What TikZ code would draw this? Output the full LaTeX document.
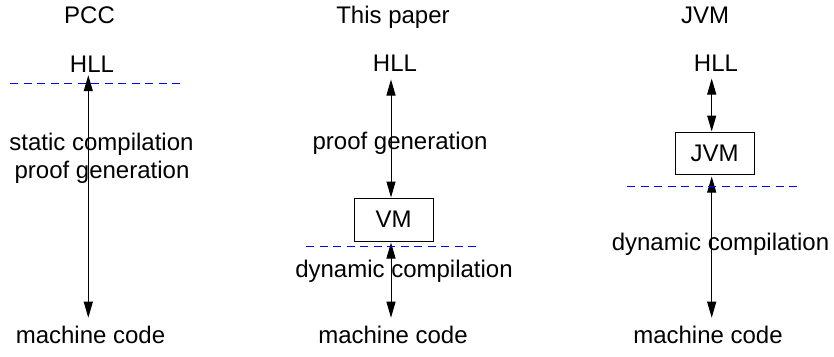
\documentclass[tikz,border=0pt]{standalone}
\usepackage{fontspec}
\setmainfont{Liberation Sans}
\usetikzlibrary{arrows.meta}

\begin{document}
\begin{tikzpicture}[x=1pt,y=-1pt,
  lbl/.style={inner sep=0pt, anchor=base, font=\fontsize{24}{28.8}\selectfont},
  vmbox/.style={draw, line width=1pt, inner sep=0pt, minimum width=79pt,
                font=\fontsize{24}{28.8}\selectfont},
  twoway/.style={line width=1pt, {Triangle[length=16pt,width=9pt]}-{Triangle[length=16pt,width=9pt]}},
  boundline/.style={draw=blue, line width=1pt, dash pattern=on 8pt off 5.5pt}]
\useasboundingbox (0,0) rectangle (834,356);

% column headings
\node[lbl] (h1) at (89.5,23.3) {PCC};
\node[lbl] (h2) at (393,23) {This paper};
\node[lbl] (h3) at (705,23) {JVM};

% source level
\node[lbl] (hll1) at (92,72.7) {HLL};
\node[lbl] (hll2) at (395,71.7) {HLL};
\node[lbl] (hll3) at (716,71.7) {HLL};

% target level
\node[lbl] (mc1) at (90.5,343.3) {machine code};
\node[lbl] (mc2) at (393,343.3) {machine code};
\node[lbl] (mc3) at (708,343.3) {machine code};

% virtual machines
\node[vmbox, minimum height=43pt] (vm) at (393.5,219.5) {VM};
\node[vmbox, minimum height=42pt] (jvm) at (714.5,153) {JVM};

% arrow axes
\coordinate (ax1) at (88.3,0);
\coordinate (ax2) at (391,0);
\coordinate (ax3) at (711.7,0);

% PCC: one step from source to machine code
\draw[twoway, shorten <=2.3pt, shorten >=8pt] (ax1 |- hll1.south) -- (ax1 |- mc1.north);
\draw[boundline] (10,83.3) -- (180,83.3);
\node[lbl] (sc) at (101.5,150) {static compilation};
\node[lbl] (pg1) at (102,178) {proof generation};

% this paper: source to VM, then VM to machine code
\draw[twoway, shorten <=7.6pt] (ax2 |- hll2.south) -- (ax2 |- vm.north);
\draw[twoway, shorten <=1pt, shorten >=8pt] (ax2 |- vm.south) -- (ax2 |- mc2.north);
\draw[boundline] (306,246.7) -- (477,246.7);
\node[lbl] (pg2) at (400,149.3) {proof generation};
\node[lbl] (dc2) at (404,277.3) {dynamic compilation};

% JVM: source to JVM, then JVM to machine code
\draw[twoway, shorten <=6.6pt] (ax3 |- hll3.south) -- (ax3 |- jvm.north);
\draw[twoway, shorten <=2pt, shorten >=8pt] (ax3 |- jvm.south) -- (ax3 |- mc3.north);
\draw[boundline] (627,186.7) -- (797,186.7);
\node[lbl] (dc3) at (720.5,250) {dynamic compilation};
\end{tikzpicture}
\end{document}
